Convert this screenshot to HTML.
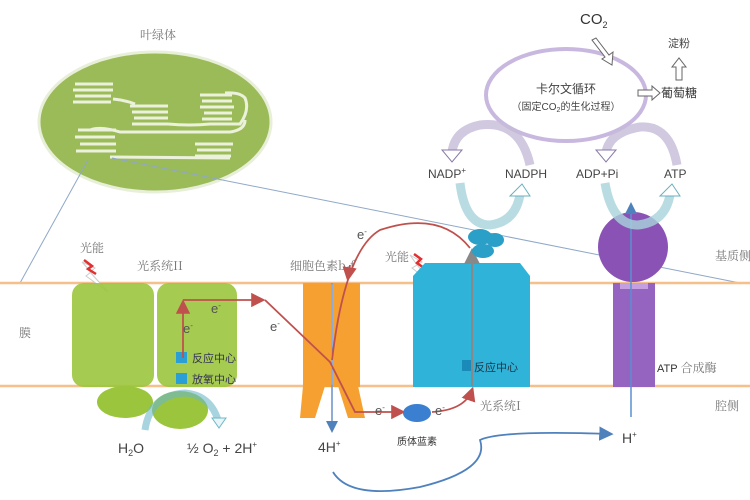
<!DOCTYPE html>
<html><head><meta charset="utf-8"><style>
body{margin:0;background:#fff}
svg{display:block}
text{font-family:"Liberation Sans","Noto Sans CJK SC",sans-serif}
.cn{font-family:"Noto Serif CJK SC","Noto Sans CJK SC",serif;fill:#777;font-size:12px}
</style></head><body>
<svg width="750" height="500" viewBox="0 0 750 500" xmlns="http://www.w3.org/2000/svg">
<defs>
<marker id="ar" markerWidth="8" markerHeight="8" refX="6" refY="4" orient="auto"><path d="M0,0 L8,4 L0,8 Z" fill="#c0504d"/></marker>
<marker id="ab" markerWidth="8" markerHeight="8" refX="6" refY="4" orient="auto"><path d="M0,0 L8,4 L0,8 Z" fill="#4f81bd"/></marker>
<marker id="ag" markerWidth="8" markerHeight="8" refX="6" refY="4" orient="auto"><path d="M0,0 L8,4 L0,8 Z" fill="#888"/></marker>
</defs>
<text x="158" y="39" class="cn" text-anchor="middle" font-size="13">叶绿体</text>
<ellipse cx="155" cy="122" rx="116" ry="70" fill="#9bbb59" stroke="#e8efd8" stroke-width="3"/>
<g stroke="#f4f7ea" stroke-width="3" fill="none" opacity="0.9">
<path d="M75,84h38M73,90h40M75,96h36M73,102h38"/>
<path d="M130,106h38M132,112h36M134,118h34M132,124h36"/>
<path d="M200,95h32M202,101h30M200,107h34M204,113h28M202,119h30"/>
<path d="M78,130h38M75,137h40M80,144h36M76,151h40"/>
<path d="M195,144h38M197,150h34M195,156h36"/>
<path d="M113,99 Q125,100 135,104M168,124 Q190,126 210,124 L240,124 Q250,110 245,98 Q240,92 225,93"/>
<path d="M90,130 Q100,126 120,132 L230,132 Q245,130 245,120"/>
<path d="M110,157 L230,158"/>
</g>
<line x1="88" y1="160" x2="20" y2="283" stroke="#8fa8c8" stroke-width="1"/>
<line x1="112" y1="158" x2="740" y2="283" stroke="#8fa8c8" stroke-width="1"/>
<line x1="0" y1="283" x2="750" y2="283" stroke="#f5c08a" stroke-width="2.5"/>
<line x1="0" y1="386" x2="750" y2="386" stroke="#f5c08a" stroke-width="2.5"/>
<text x="25" y="337" class="cn" font-size="15" text-anchor="middle">膜</text>
<text x="715" y="260" class="cn">基质侧</text>
<text x="715" y="410" class="cn">腔侧</text>
<text x="160" y="270" class="cn" text-anchor="middle">光系统II</text>
<text x="80" y="252" class="cn">光能</text>
<path d="M82,262 L95,268 L90,272 L108,292 L86,276 L91,272 Z" fill="#fff" stroke="#ccc"/>
<path d="M84,260 L92,266 L88,269 L96,274" stroke="#e03030" stroke-width="2.5" fill="none"/>
<rect x="72" y="283" width="82" height="104" rx="12" fill="#9bc53d" opacity="0.9"/>
<rect x="157" y="283" width="80" height="104" rx="12" fill="#9bc53d" opacity="0.9"/>
<ellipse cx="125" cy="402" rx="28" ry="16" fill="#9bc53d"/>
<ellipse cx="180" cy="410" rx="28" ry="19" fill="#9bc53d"/>
<rect x="176" y="352" width="11" height="11" fill="#2a9fd6"/>
<rect x="176" y="373" width="11" height="11" fill="#2a9fd6"/>
<text x="192" y="362" font-size="11" fill="#335">反应中心</text>
<text x="192" y="383" font-size="11" fill="#335">放氧中心</text>
<path d="M145,430 Q150,395 185,393 Q210,395 218,420" stroke="#6cb8c8" stroke-width="7" fill="none" opacity="0.6"/>
<path d="M212,418 L226,418 L219,428 Z" fill="#e8f4f7" stroke="#6cb8c8"/>
<text x="118" y="453" font-size="14" fill="#444">H<tspan font-size="9" dy="3">2</tspan><tspan dy="-3">O</tspan></text>
<text x="187" y="453" font-size="14" fill="#444">½ O<tspan font-size="9" dy="3">2</tspan><tspan dy="-3"> + 2H</tspan><tspan font-size="8" dy="-6">+</tspan></text>
<text x="290" y="270" class="cn">细胞色素b<tspan font-size="8" dy="2">6</tspan><tspan dy="-2">f</tspan></text>
<rect x="303" y="283" width="28" height="104" fill="#f5a030"/>
<rect x="333" y="283" width="27" height="104" fill="#f5a030"/>
<path d="M303,386 L325,386 L315,418 L300,418 Z" fill="#f5a030"/>
<path d="M338,386 L358,386 L365,418 L348,418 Z" fill="#f5a030"/>
<line x1="332" y1="283" x2="332" y2="430" stroke="#6a8fc8" stroke-width="1.5" marker-end="url(#ab)"/>
<text x="318" y="452" font-size="14" fill="#444">4H<tspan font-size="8" dy="-6">+</tspan></text>
<g stroke="#c0504d" stroke-width="1.8" fill="none">
<path d="M183,358 L183,303" marker-end="url(#ar)"/>
<path d="M183,300 L262,300" marker-end="url(#ar)"/>
<path d="M265,300 L330,362 L355,412 L402,412" marker-end="url(#ar)"/>
<path d="M432,412 Q465,410 472,390" marker-end="url(#ar)"/>
<path d="M470,248 Q440,210 380,230 Q345,250 332,360" />
<path d="M350,265 L348,278" marker-end="url(#ar)"/>
</g>
<g font-family="Liberation Serif" font-size="13" fill="#555">
<text x="183" y="333">e<tspan font-size="8" dy="-5">-</tspan></text>
<text x="211" y="313">e<tspan font-size="8" dy="-5">-</tspan></text>
<text x="270" y="331">e<tspan font-size="8" dy="-5">-</tspan></text>
<text x="375" y="415">e<tspan font-size="8" dy="-5">-</tspan></text>
<text x="435" y="415">e<tspan font-size="8" dy="-5">-</tspan></text>
<text x="357" y="239">e<tspan font-size="8" dy="-5">-</tspan></text>
<text x="475" y="288">e<tspan font-size="8" dy="-5">-</tspan></text>
</g>
<ellipse cx="417" cy="413" rx="14" ry="9" fill="#3a7fd0"/>
<text x="417" y="445" font-size="10" fill="#333" text-anchor="middle">质体蓝素</text>
<text x="385" y="261" class="cn">光能</text>
<path d="M410,255 L422,262 L417,265 L434,285 L412,268 L417,265 Z" fill="#fff" stroke="#ccc"/>
<path d="M414,254 L421,259 L417,263 L424,268" stroke="#e03030" stroke-width="2.5" fill="none"/>
<path d="M413,276 L425,263 L520,263 L530,276 L530,387 L413,387 Z" fill="#2fb3d8"/>
<line x1="472" y1="386" x2="472" y2="252" stroke="#888" stroke-width="2" marker-end="url(#ag)"/>
<rect x="462" y="360" width="9" height="11" fill="#1a8ab8"/>
<text x="474" y="371" font-size="11" fill="#234">反应中心</text>
<text x="480" y="410" class="cn">光系统I</text>
<ellipse cx="480" cy="237" rx="12" ry="8" fill="#2a9fc8"/>
<ellipse cx="495" cy="240" rx="9" ry="7" fill="#2a9fc8"/>
<ellipse cx="483" cy="251" rx="11" ry="7" fill="#2a9fc8"/>
<circle cx="633" cy="247" r="35" fill="#8a52b5"/>
<rect x="613" y="283" width="42" height="104" fill="#9464c0"/>
<rect x="620" y="283" width="28" height="6" fill="#c5a0e0"/>
<line x1="631" y1="417" x2="631" y2="205" stroke="#5a8fd0" stroke-width="1.5" marker-end="url(#ab)"/>
<text x="657" y="372" font-size="11" fill="#333">ATP<tspan class="cn" font-size="11"> 合成酶</tspan></text>
<text x="622" y="443" font-size="14" fill="#444">H<tspan font-size="8" dy="-6">+</tspan></text>
<path d="M333,472 Q350,500 420,487 Q490,470 480,440 Q500,430 610,434" stroke="#4f81bd" stroke-width="1.8" fill="none" marker-end="url(#ab)"/>
<ellipse cx="566" cy="95" rx="80" ry="46" fill="#fff" stroke="#c8b8e0" stroke-width="4"/>
<text x="566" y="93" font-size="12" fill="#444" text-anchor="middle">卡尔文循环</text>
<text x="566" y="110" font-size="10" fill="#444" text-anchor="middle">（固定CO<tspan font-size="7" dy="2">2</tspan><tspan dy="-2">的生化过程）</tspan></text>
<text x="580" y="24" font-size="15" fill="#333">CO<tspan font-size="9" dy="4">2</tspan></text>
<path d="M596,38 L609,55 L613,52 L612,65 L602,59 L605,57 L592,40 Z" fill="#fff" stroke="#666"/>
<text x="668" y="47" font-size="11" fill="#444">淀粉</text>
<path d="M676,80 L676,67 L672,67 L679,58 L686,67 L682,67 L682,80 Z" fill="#fff" stroke="#666"/>
<path d="M638,90 L652,90 L652,86 L660,93 L652,100 L652,96 L638,96 Z" fill="#fff" stroke="#666"/>
<text x="661" y="97" font-size="12" fill="#333">葡萄糖</text>
<g fill="none" stroke-width="9" opacity="0.8">
<path d="M530,165 Q520,120 480,125 Q455,130 452,152" stroke="#c5bcd8"/>
<path d="M677,165 Q670,125 640,127 Q610,132 606,152" stroke="#c5bcd8"/>
<path d="M460,183 Q465,225 490,225 Q515,222 520,195" stroke="#a8d4dc"/>
<path d="M605,183 Q612,225 638,225 Q665,222 670,195" stroke="#a8d4dc"/>
</g>
<path d="M442,150 L462,150 L452,162 Z" fill="#fff" stroke="#8a7aa8"/>
<path d="M596,150 L616,150 L606,162 Z" fill="#fff" stroke="#8a7aa8"/>
<path d="M510,196 L530,196 L522,184 Z" fill="#fff" stroke="#6ab0c0"/>
<path d="M660,196 L680,196 L672,184 Z" fill="#fff" stroke="#6ab0c0"/>
<g font-size="12" fill="#444">
<text x="428" y="178">NADP<tspan font-size="8" dy="-5">+</tspan></text>
<text x="505" y="178">NADPH</text>
<text x="576" y="178">ADP+Pi</text>
<text x="664" y="178">ATP</text>
</g>
</svg>
</body></html>
